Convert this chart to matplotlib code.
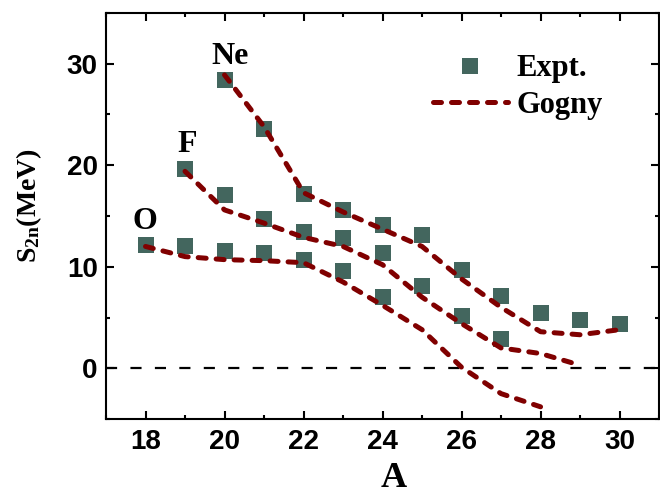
import numpy as np
import matplotlib
matplotlib.use("Agg")
import matplotlib.pyplot as plt
from matplotlib.ticker import MultipleLocator

# experimental S2n (MeV)
A_O = [18, 19, 20, 21, 22, 23, 24]
expt_O = [12.1, 12.0, 11.6, 11.4, 10.7, 9.6, 7.0]
A_F = [19, 20, 21, 22, 23, 24, 25, 26, 27]
expt_F = [19.6, 17.1, 14.7, 13.4, 12.8, 11.4, 8.1, 5.1, 2.9]
A_Ne = [20, 21, 22, 23, 24, 25, 26, 27, 28, 29, 30]
expt_Ne = [28.4, 23.6, 17.2, 15.6, 14.1, 13.1, 9.7, 7.1, 5.4, 4.8, 4.4]

# Gogny calculation
gA_O = [18, 19, 20, 21, 22, 23, 24, 25, 26, 27, 28]
gogny_O = [12.0, 11.0, 10.7, 10.6, 10.4, 8.5, 6.2, 3.8, 0.1, -2.5, -3.8]
gA_F = [19, 20, 21, 22, 23, 24, 25, 26, 27, 28, 29]
gogny_F = [19.4, 15.6, 14.3, 12.9, 12.0, 10.2, 7.0, 4.4, 2.0, 1.45, 0.3]
gA_Ne = [20, 21, 22, 23, 24, 25, 26, 27, 28, 29, 30]
gogny_Ne = [28.9, 23.8, 17.3, 15.4, 13.7, 12.0, 8.8, 6.0, 3.6, 3.3, 3.8]

plt.rcParams['mathtext.fontset'] = 'custom'
plt.rcParams['mathtext.rm'] = 'Liberation Serif:bold'
plt.rcParams['mathtext.bf'] = 'Liberation Serif:bold'
plt.rcParams['mathtext.it'] = 'Liberation Serif:bold'

serif = ['Liberation Serif', 'DejaVu Serif']
sans = ['Liberation Sans', 'DejaVu Sans']
sq_color = '#43665e'
ln_color = '#800000'

fig = plt.figure(figsize=(6.6, 5.0), dpi=100)
ax = fig.add_axes([0.1606, 0.162, 0.838, 0.812])

ax.axhline(0, color='black', lw=1.6, dashes=(5, 6))

for gx, gy in [(gA_O, gogny_O), (gA_F, gogny_F), (gA_Ne, gogny_Ne)]:
    ax.plot(gx, gy, color=ln_color, lw=3.6, dashes=(1.6, 2.0),
            dash_capstyle='round', zorder=3)
for ex, ey in [(A_O, expt_O), (A_F, expt_F), (A_Ne, expt_Ne)]:
    ax.plot(ex, ey, ls='none', marker='s', ms=11, color=sq_color,
            markeredgewidth=0, zorder=2)

# legend handles
h1, = ax.plot([], [], ls='none', marker='s', ms=11, color=sq_color,
              markeredgewidth=0)
h2, = ax.plot([], [], color=ln_color, lw=3.6, dashes=(1.6, 2.0),
              dash_capstyle='round')
ax.legend([h1, h2], ['Expt.', 'Gogny'], loc='upper left',
          bbox_to_anchor=(0.591, 0.898), frameon=False, borderpad=0,
          borderaxespad=0, handlelength=2.45, handletextpad=0.3,
          labelspacing=0.25, prop={'family': serif, 'weight': 'bold', 'size': 22})

ax.text(19.68, 30.0, 'Ne', family=serif, weight='bold', fontsize=23)
ax.text(18.82, 21.3, 'F', family=serif, weight='bold', fontsize=23)
ax.text(17.68, 13.7, 'O', family=serif, weight='bold', fontsize=23)

ax.set_xlim(17, 31)
ax.set_ylim(-5, 35)
ax.xaxis.set_major_locator(MultipleLocator(2))
ax.xaxis.set_minor_locator(MultipleLocator(1))
ax.yaxis.set_major_locator(MultipleLocator(10))
ax.yaxis.set_minor_locator(MultipleLocator(5))
ax.tick_params(which='both', direction='in', top=True, right=True, width=1.5)
ax.tick_params(which='major', length=6)
ax.tick_params(which='minor', length=3)
ax.tick_params(axis='x', pad=7)
ax.tick_params(axis='y', pad=6)
for lab in ax.get_xticklabels() + ax.get_yticklabels():
    lab.set_family(sans)
    lab.set_fontweight('bold')
    lab.set_fontsize(20)
for s in ax.spines.values():
    s.set_linewidth(1.5)

ax.set_xlabel('A', family=serif, weight='bold', fontsize=26)
ax.set_ylabel(r'S$_{2n}$(MeV)', family=serif, weight='bold', fontsize=20)
ax.xaxis.set_label_coords(0.52, -0.107)
ax.yaxis.set_label_coords(-0.112, 0.525)

fig.savefig('out.png', dpi=100)
